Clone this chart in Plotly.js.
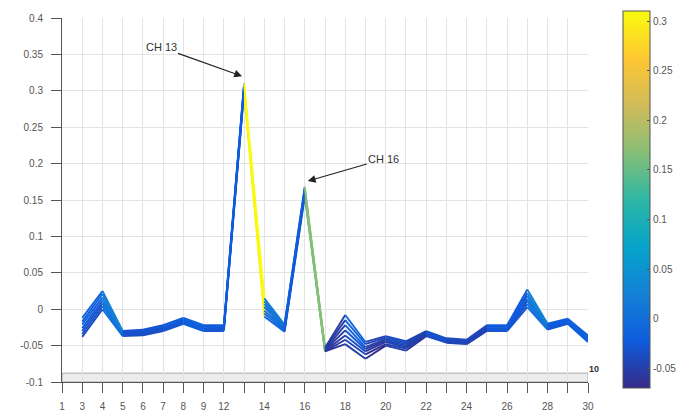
<!DOCTYPE html>
<html>
<head>
<meta charset="utf-8">
<script src="https://cdn.plot.ly/plotly-3.0.1.min.js"></script>
<style>html,body{margin:0;padding:0;background:#fff;}#chart{width:685px;height:419px;}</style>
</head>
<body>
<div id="chart"></div>
<script>
// Channels plotted (x positions)
const channels = [5,6,7,8,9,10,11,12,13,14,15,16,17,18,19,20,21,22,23,24,25,26,27,28,29,30];

// Series values
const line1 = [-0.012, 0.025, -0.030, -0.028, -0.022, -0.012, -0.022, -0.022, 0.310, 0.015, -0.021, 0.168, -0.053, -0.008, -0.045, -0.037, -0.044, -0.030, -0.040, -0.042, -0.022, -0.022, 0.027, -0.020, -0.013, -0.036];
const line2 = [-0.017, 0.021, -0.031, -0.030, -0.023, -0.013, -0.023, -0.023, 0.308, 0.011, -0.023, 0.166, -0.054, -0.015, -0.048, -0.039, -0.046, -0.031, -0.041, -0.043, -0.023, -0.023, 0.022, -0.021, -0.014, -0.038];
const line3 = [-0.021, 0.016, -0.032, -0.031, -0.025, -0.015, -0.024, -0.025, 0.306, 0.007, -0.024, 0.164, -0.055, -0.022, -0.052, -0.041, -0.048, -0.032, -0.042, -0.044, -0.024, -0.024, 0.018, -0.023, -0.015, -0.039];
const line4 = [-0.026, 0.012, -0.033, -0.032, -0.026, -0.016, -0.026, -0.026, 0.305, 0.003, -0.026, 0.162, -0.056, -0.029, -0.055, -0.043, -0.050, -0.033, -0.043, -0.045, -0.026, -0.026, 0.014, -0.024, -0.016, -0.040];
const line5 = [-0.030, 0.008, -0.034, -0.033, -0.027, -0.017, -0.027, -0.027, 0.303, -0.002, -0.027, 0.160, -0.057, -0.036, -0.058, -0.045, -0.052, -0.035, -0.044, -0.046, -0.027, -0.027, 0.011, -0.025, -0.017, -0.042];
const line6 = [-0.034, 0.004, -0.035, -0.035, -0.028, -0.019, -0.028, -0.028, 0.301, -0.006, -0.029, 0.158, -0.058, -0.042, -0.062, -0.048, -0.054, -0.036, -0.045, -0.047, -0.028, -0.028, 0.007, -0.027, -0.019, -0.043];
const line7 = [-0.038, 0.000, -0.037, -0.036, -0.030, -0.020, -0.030, -0.030, 0.299, -0.010, -0.031, 0.155, -0.058, -0.048, -0.068, -0.050, -0.057, -0.037, -0.046, -0.048, -0.030, -0.030, 0.003, -0.028, -0.020, -0.045];

// Tick labels
const xTickVals = [4,5,6,7,8,9,10,11,12,13,14,15,16,17,18,19,20,21,22,23,24,25,26,27,28,29,30];
const xTickText = ['1','3','4','5','6','7','8','9','12','','14','','16','','18','','20','','22','','24','','26','','28','','30'];
const yTickVals = [-0.1,-0.05,0,0.05,0.1,0.15,0.2,0.25,0.3,0.35,0.4];
const yTickText = ['-0.1','-0.05','0','0.05','0.1','0.15','0.2','0.25','0.3','0.35','0.4'];
const cbTickVals = [-0.05,0,0.05,0.1,0.15,0.2,0.25,0.3];
const cbTickText = ['-0.05','0','0.05','0.1','0.15','0.2','0.25','0.3'];

const cMin = -0.07, cMax = 0.31;
const parulaStops = [
  [0.000,'#352a87'],[0.125,'#0f5cdd'],[0.250,'#1481d6'],[0.375,'#06a4ca'],
  [0.500,'#2eb7a4'],[0.625,'#87bf77'],[0.750,'#d1bb59'],[0.875,'#fec832'],[1.000,'#f9fb0e']
];
function hex2rgb(h){return [parseInt(h.substr(1,2),16),parseInt(h.substr(3,2),16),parseInt(h.substr(5,2),16)];}
function parula(t){
  t = Math.max(0, Math.min(1, t));
  for (let i=0;i<parulaStops.length-1;i++){
    const [a,ca]=parulaStops[i],[b,cb]=parulaStops[i+1];
    if (t<=b){
      const f=(t-a)/(b-a), A=hex2rgb(ca), B=hex2rgb(cb);
      return 'rgb('+A.map((v,k)=>Math.round(v+(B[k]-v)*f)).join(',')+')';
    }
  }
  return parulaStops[parulaStops.length-1][1];
}

const lines = [line7, line6, line5, line4, line3, line2, line1];
const traces = [];
lines.forEach(vals=>{
  for (let i=0;i<channels.length-1;i++){
    traces.push({
      type:'scatter', mode:'lines',
      x:[channels[i], channels[i+1]], y:[vals[i], vals[i+1]],
      line:{color: parula((vals[i]-cMin)/(cMax-cMin)), width:1.9},
      hoverinfo:'skip', showlegend:false
    });
  }
});
// colorbar carrier
traces.push({
  type:'scatter', mode:'markers', x:[5], y:[-5], showlegend:false, hoverinfo:'skip',
  marker:{size:1, opacity:0, color:[cMin], cmin:cMin, cmax:cMax,
    colorscale: parulaStops, showscale:true,
    colorbar:{x:1.066, xanchor:'left', xref:'paper', y:0.501, yanchor:'middle',
      len:377, lenmode:'pixels', thickness:27, thicknessmode:'pixels',
      outlinecolor:'#555', outlinewidth:1, xpad:0, ypad:0,
      tickmode:'array', tickvals:cbTickVals, ticktext:cbTickText,
      ticks:'inside', ticklen:3, tickcolor:'#555',
      tickfont:{family:'Liberation Sans, Arial, sans-serif', size:10, color:'#555'}}}
});

const font = {family:'Liberation Sans, Arial, sans-serif', size:10, color:'#555'};
const layout = {
  width:685, height:419,
  margin:{l:62, r:97, t:18, b:37, pad:0, autoexpand:false},
  paper_bgcolor:'#fff', plot_bgcolor:'#fff',
  font: font,
  showlegend:false,
  xaxis:{range:[4,30], tickmode:'array', tickvals:xTickVals, ticktext:xTickText,
    showgrid:true, gridcolor:'#e3e3e3', gridwidth:1, zeroline:false,
    showline:true, linecolor:'#555', linewidth:1, automargin:false,
    ticks:'outside', ticklen:10, tickcolor:'#555', tickfont:font, tickangle:0,
    ticklabelstandoff:5},
  yaxis:{range:[-0.1,0.4], tickmode:'array', tickvals:yTickVals, ticktext:yTickText,
    showgrid:true, gridcolor:'#e3e3e3', gridwidth:1, zeroline:false,
    showline:true, linecolor:'#555', linewidth:1, automargin:false,
    ticks:'outside', ticklen:10, tickcolor:'#555', tickfont:font,
    ticklabelstandoff:6},
  shapes:[{type:'rect', xref:'x', yref:'y', x0:4, x1:30, y0:-0.1, y1:-0.0878,
    fillcolor:'#ececec', line:{color:'#aaa', width:1}, layer:'below'}],
  annotations:[
    {x:12.9, y:0.320, xref:'x', yref:'y', text:'CH 13', showarrow:true,
     ax:-81, ay:-29, arrowhead:2, arrowsize:1.3, arrowwidth:1.2, arrowcolor:'#222',
     font:{family:'Liberation Sans, Arial, sans-serif', size:11, color:'#333'}},
    {x:16.15, y:0.176, xref:'x', yref:'y', text:'CH 16', showarrow:true,
     ax:76, ay:-22, arrowhead:2, arrowsize:1.3, arrowwidth:1.2, arrowcolor:'#222',
     font:{family:'Liberation Sans, Arial, sans-serif', size:11, color:'#333'}},
    {x:1.012, y:0.035, xref:'paper', yref:'paper', text:'<b>10</b>', showarrow:false,
     xanchor:'center', yanchor:'middle',
     font:{family:'Liberation Sans, Arial, sans-serif', size:9, color:'#333'}}
  ]
};
Plotly.newPlot('chart', traces, layout, {displayModeBar:false, staticPlot:true});
</script>
</body>
</html>
